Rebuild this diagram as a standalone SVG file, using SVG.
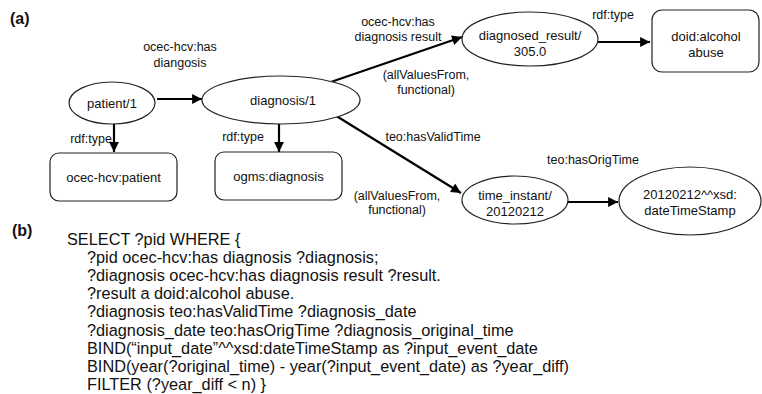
<svg xmlns="http://www.w3.org/2000/svg" width="762" height="394" viewBox="0 0 762 394">
<defs>
<marker id="ah" viewBox="0 0 10 10" refX="10" refY="5" markerWidth="5" markerHeight="4.5" markerUnits="strokeWidth" orient="auto">
<path d="M0,0 L10,5 L0,10 z" fill="#000"/>
</marker>
<style>
text{font-family:"Liberation Sans",Arial,sans-serif;fill:#111}
.n{font-size:13px;text-anchor:middle}
.l{font-size:12.5px;text-anchor:middle}
.c{font-size:16.3px}
.h{font-size:16px;font-weight:bold}
.sh{fill:#fff;stroke:#222;stroke-width:1.2}
.e{fill:none;stroke:#000;stroke-width:2.2;marker-end:url(#ah)}
</style>
</defs>
<rect width="762" height="394" fill="#fff"/>
<text class="h" x="10" y="24">(a)</text>
<text class="h" x="12" y="236">(b)</text>

<g id="connectors">
<line class="e" x1="157" y1="99" x2="202" y2="99"/>
<line class="e" x1="114" y1="124" x2="114" y2="152"/>
<line class="e" x1="279" y1="124" x2="279" y2="152"/>
<line class="e" x1="325" y1="84" x2="462" y2="37"/>
<line class="e" x1="325" y1="109" x2="461" y2="193"/>
<line class="e" x1="598" y1="42" x2="650" y2="42"/>
<line class="e" x1="567" y1="202" x2="618" y2="202"/>
<text class="l" x="180" y="51">ocec-hcv:has</text>
<text class="l" x="180" y="67">diangosis</text>
<text class="l" x="91" y="143">rdf:type</text>
<text class="l" x="243" y="141">rdf:type</text>
<text class="l" x="398" y="26">ocec-hcv:has</text>
<text class="l" x="398" y="41">diagnosis result</text>
<text class="l" x="426" y="79">(allValuesFrom,</text>
<text class="l" x="426" y="94">functional)</text>
<text class="l" x="613" y="19">rdf:type</text>
<text class="l" x="433" y="141">teo:hasValidTime</text>
<text class="l" x="593" y="164">teo:hasOrigTime</text>
<text class="l" x="397" y="200">(allValuesFrom,</text>
<text class="l" x="397" y="214">functional)</text>
</g>

<g id="patient">
<ellipse class="sh" cx="112" cy="103" rx="43" ry="21"/>
<text class="n" x="112" y="107.5">patient/1</text>
</g>
<g id="diagnosis">
<ellipse class="sh" cx="281" cy="100" rx="79" ry="24"/>
<text class="n" x="283" y="104.5">diagnosis/1</text>
</g>
<g id="patient-type">
<rect class="sh" x="50" y="153" width="127" height="48" rx="9"/>
<text class="n" x="113.5" y="181.5">ocec-hcv:patient</text>
</g>
<g id="diagnosis-type">
<rect class="sh" x="215" y="152" width="127" height="48" rx="9"/>
<text class="n" x="278.5" y="180.5">ogms:diagnosis</text>
</g>
<g id="result">
<ellipse class="sh" cx="530" cy="39" rx="68" ry="27"/>
<text class="n" x="530" y="40">diagnosed_result/</text>
<text class="n" x="530" y="56">305.0</text>
</g>
<g id="alcohol">
<rect class="sh" x="652" y="10" width="107" height="62" rx="10"/>
<text class="n" x="706" y="41">doid:alcohol</text>
<text class="n" x="706" y="57">abuse</text>
</g>
<g id="time-instant">
<ellipse class="sh" cx="515" cy="200" rx="53" ry="24"/>
<text class="n" x="515" y="200">time_instant/</text>
<text class="n" x="515" y="216">20120212</text>
</g>
<g id="timestamp">
<ellipse class="sh" cx="690" cy="201" rx="71" ry="34"/>
<text class="n" x="690" y="199">20120212^^xsd:</text>
<text class="n" x="690" y="215">dateTimeStamp</text>
</g>

<g id="query">
<text class="c" x="67" y="244.5">SELECT ?pid WHERE {</text>
<text class="c" x="87" y="262.7">?pid ocec-hcv:has diagnosis ?diagnosis;</text>
<text class="c" x="87" y="280.9">?diagnosis ocec-hcv:has diagnosis result ?result.</text>
<text class="c" x="87" y="299.1">?result a doid:alcohol abuse.</text>
<text class="c" x="87" y="317.3">?diagnosis teo:hasValidTime ?diagnosis_date</text>
<text class="c" x="87" y="335.5">?diagnosis_date teo:hasOrigTime ?diagnosis_original_time</text>
<text class="c" x="87" y="353.7">BIND(“input_date”^^xsd:dateTimeStamp as ?input_event_date</text>
<text class="c" x="87" y="371.9">BIND(year(?original_time) - year(?input_event_date) as ?year_diff)</text>
<text class="c" x="87" y="390">FILTER (?year_diff &lt; n) }</text>
</g>
</svg>
